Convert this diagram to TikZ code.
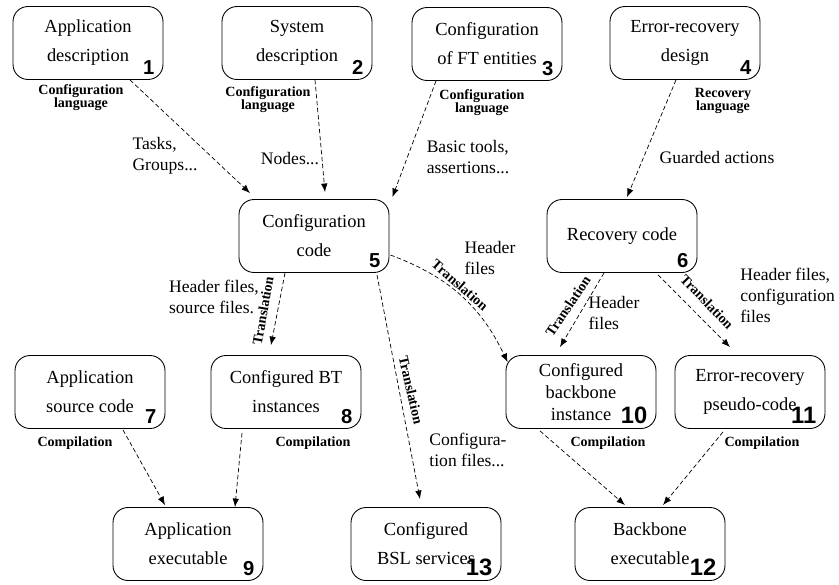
\documentclass[tikz,border=0pt]{standalone}
\usepackage{fontspec}
\setmainfont{Liberation Serif}
\setsansfont{Liberation Sans}
\usetikzlibrary{arrows.meta,calc}

\begin{document}
\begin{tikzpicture}[
    x=0.02cm, y=-0.02cm,
    >={Latex[length=1.7mm,width=1.3mm]},
    boxbase/.style={draw=black, line width=0.5pt, rounded corners=0.3cm, minimum width=3cm,
      minimum height=1.46cm, align=center, inner sep=2pt, font=\fontsize{10.5}{16.5}\selectfont},
    box/.style={boxbase, label={[num]south east:#1}},
    boxw/.style={boxbase, label={[num, font=\sffamily\bfseries\fontsize{13.5}{13.5}\selectfont]south east:#1}},
    num/.style={anchor=south east, xshift=-5pt, yshift=3pt, inner sep=0pt,
      font=\sffamily\bfseries\fontsize{11.5}{11.5}\selectfont},
    conn/.style={->, line width=0.4pt, dash pattern=on 2.5pt off 1.5pt},
    lang/.style={font=\bfseries\fontsize{8}{7.5}\selectfont, align=center, inner sep=0pt},
    txt/.style={font=\fontsize{10}{12}\selectfont, align=left, inner sep=0pt},
    tr/.style={font=\bfseries\fontsize{8}{8}\selectfont, inner sep=0pt},
  ]
    \useasboundingbox (0,0) rectangle (839,585);

    % boxes
    \node[box=1] (appdesc)  at (88,43)   {Application\\description};
    \node[box=2] (sysdesc)  at (297,43)  {System\\description};
    \node[box=3] (ftconf)   at (487,44)  {Configuration\\of FT entities};
    \node[box=4] (erdesign) at (685,43)  {Error-recovery\\design};
    \node[box=5] (confcode) at (314,236) {Configuration\\code};
    \node[box=6] (reccode)  at (622,236) {Recovery code};
    \node[box=7] (appsrc)   at (90,392)  {Application\\source code};
    \node[box=8] (btinst)   at (286,392) {Configured BT\\instances};
    \node[boxw=10, font=\fontsize{10.5}{12.5}\selectfont] (bbinst) at (581,392) {Configured\\backbone\\instance};
    \node[boxw=11] (erpseudo) at (750,392) {Error-recovery\\pseudo-code};
    \node[box=9]   (appexe)   at (188,544) {Application\\executable};
    \node[boxw=13] (bsl)      at (426,544) {Configured\\BSL services};
    \node[boxw=12] (bbexe)    at (650,544) {Backbone\\executable};

    % connectors
    \draw[conn] ($(appdesc.south)+(42,0)$) -- ($(confcode.north)+(-64,-6)$);
    \draw[conn] ($(sysdesc.south)+(18,0)$) -- ($(confcode.north)+(11,-7)$);
    \draw[conn] ($(ftconf.south)+(-51,0)$) -- ($(confcode.north east)+(3,-2)$);
    \draw[conn] ($(erdesign.south)+(-9,0)$) -- ($(reccode.north)+(5,-2)$);
    \draw[conn] ($(confcode.south)+(-29,0)$) -- ($(btinst.north)+(-15,-10)$);
    \draw[conn] ($(confcode.south)+(63,2)$) -- ($(bsl.north)+(-6,-8)$);
    \draw[conn] ($(confcode.east)+(1,19)$) to[bend left=22] ($(bbinst.north west)+(2,7)$);
    \draw[conn] ($(reccode.south)+(-18,0)$) -- ($(bbinst.north)+(-21,-8)$);
    \draw[conn] ($(reccode.south)+(36,2)$) -- ($(erpseudo.north)+(-20,-8)$);
    \draw[conn] ($(appsrc.south)+(33,1)$) -- ($(appexe.north)+(-23,-2)$);
    \draw[conn] ($(btinst.south)+(-44,4)$) -- ($(appexe.north)+(47,0)$);
    \draw[conn] ($(bbinst.south)+(-41,2)$) -- ($(bbexe.north)+(-25,-2)$);
    \draw[conn] ($(erpseudo.south)+(-27,3)$) -- ($(bbexe.north)+(13,-2)$);

    % labels
    \node[lang] (lang1) at (81,98)  {Configuration\\language};
    \node[lang] (lang2) at (268,100) {Configuration\\language};
    \node[lang] (lang3) at (482,103) {Configuration\\language};
    \node[lang] (lang4) at (723,101) {Recovery\\language};

    \node[txt] (tasks)  at (165,156) {Tasks,\\Groups...};
    \node[txt] (nodes)  at (290,159) {Nodes...};
    \node[txt] (basic)  at (468,157) {Basic tools,\\assertions...};
    \node[txt] (guard)  at (717,157) {Guarded actions};
    \node[txt] (hdr5)   at (490,258) {Header\\files};
    \node[txt] (hdrsrc) at (214,297) {Header files,\\source files.};
    \node[txt] (cfgfiles) at (468,450) {Configura-\\tion files...};
    \node[txt] (hdr6)   at (614,313) {Header\\files};
    \node[txt, anchor=west] (hdrcfg) at (740,295) {Header files,\\configuration\\files};

    \node[tr, rotate=-41] (tr510) at (460,285) {Translation};
    \node[tr, rotate=80]  (tr58)  at (263,311) {Translation};
    \node[tr, rotate=-77] (tr513) at (411,390) {Translation};
    \node[tr, rotate=56]  (tr610) at (568,306) {Translation};
    \node[tr, rotate=-46] (tr611) at (707,302) {Translation};

    \node[tr] (comp7)  at (75,443)  {Compilation};
    \node[tr] (comp8)  at (313,443) {Compilation};
    \node[tr] (comp10) at (608,443) {Compilation};
    \node[tr] (comp11) at (762,443) {Compilation};
  \end{tikzpicture}
\end{document}
